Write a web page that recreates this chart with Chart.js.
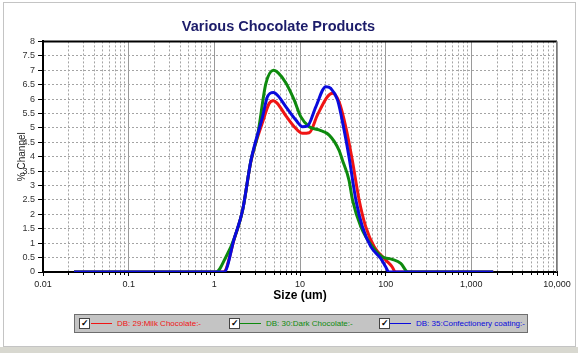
<!DOCTYPE html>
<html><head><meta charset="utf-8">
<script src="https://cdn.jsdelivr.net/npm/chart.js@4.4.1/dist/chart.umd.min.js"></script>
<style>
html,body{margin:0;padding:0;background:#fff;}
#wrap{position:relative;width:578px;height:353px;overflow:hidden;background:#fff;}
#frame{position:absolute;left:3px;top:2px;width:571px;height:343px;border:1px solid #c4c4c4;}
#bottom{position:absolute;left:0;top:347px;width:578px;height:6px;background:#d8d8d0;}
canvas{position:absolute;left:0;top:0;}
#legend{position:absolute;left:74px;top:314px;width:452px;height:17px;background:#c4c4c4;border:1px solid #6e6e6e;font-family:'Liberation Sans',Arial,sans-serif;font-size:8px;}
.cb{position:absolute;top:3px;width:9px;height:9px;background:#fff;border:1px solid #444;font-size:9px;line-height:9px;text-align:center;color:#000;font-weight:bold;}
.ln{position:absolute;top:8px;width:21px;height:1px;}
.tx{position:absolute;top:3px;white-space:nowrap;line-height:12px;}
</style></head>
<body>
<div id="wrap">
<div id="frame"></div>
<div id="bottom"></div>
<canvas id="c" width="578" height="353"></canvas>
<div id="legend">
  <div class="cb" style="left:4px">&#10003;</div><div class="ln" style="left:16px;background:#f01414"></div><div class="tx" style="left:42px;color:#f01414">DB: 29:Milk Chocolate:-</div>
  <div class="cb" style="left:154px">&#10003;</div><div class="ln" style="left:165px;background:#0e8a0e"></div><div class="tx" style="left:191px;color:#0e8a0e">DB: 30:Dark Chocolate:-</div>
  <div class="cb" style="left:304px">&#10003;</div><div class="ln" style="left:315px;background:#0a0adc"></div><div class="tx" style="left:341px;color:#0a0adc">DB: 35:Confectionery coating:-</div>
</div>
</div>
<script>
const FONT = "'Liberation Sans', Arial, sans-serif";

const milkSizes  = [0.023, 1.28, 1.71, 2.14, 2.68, 3.66, 4.37, 4.9, 5.4, 6.85, 8.96, 10.7, 12.8, 16.0, 20.9, 23.9, 28.5, 34.2, 40.8, 49, 58.5, 73.5, 100, 119, 130, 1800];
const milkValues = [0, 0, 1.15, 2.15, 3.85, 5.2, 5.85, 5.94, 5.86, 5.42, 4.98, 4.81, 4.83, 5.45, 6.08, 6.2, 5.91, 5.04, 3.88, 2.5, 1.57, 0.88, 0.42, 0.18, 0, 0];

const darkSizes  = [0.023, 1.05, 1.37, 1.71, 2.14, 2.68, 3.2, 4.0, 4.9, 5.6, 6.85, 8.55, 10.2, 12.8, 16.7, 21.9, 28.5, 31.3, 37.3, 41, 51.3, 70, 91, 119, 150, 182, 1800];
const darkValues = [0, 0, 0.53, 1.17, 2.15, 3.88, 4.75, 6.54, 7.0, 6.9, 6.56, 5.97, 5.39, 5.04, 4.93, 4.75, 4.23, 3.88, 3.19, 2.5, 1.57, 0.88, 0.53, 0.44, 0.3, 0, 0];

const coatSizes  = [0.023, 1.3, 1.71, 2.14, 2.68, 3.66, 4.17, 4.9, 5.5, 6.85, 8.96, 10.7, 12.2, 15.3, 20, 22.9, 27.4, 32.7, 37.3, 44.9, 53.5, 67, 87.6, 100, 109, 1800];
const coatValues = [0, 0, 1.17, 2.15, 3.88, 5.39, 6.08, 6.23, 6.12, 5.73, 5.27, 5.04, 5.06, 5.73, 6.43, 6.37, 5.97, 4.93, 4.0, 2.5, 1.57, 0.88, 0.47, 0.18, 0, 0];

const xTickValues = [0.01, 0.1, 1, 10, 100, 1000, 10000];
const xTickLabels = ['0.01', '0.1', '1', '10', '100', '1,000', '10,000'];
const yTickValues = [0, 0.5, 1, 1.5, 2, 2.5, 3, 3.5, 4, 4.5, 5, 5.5, 6, 6.5, 7, 7.5, 8];
const yTickLabels = ['0', '0.5', '1', '1.5', '2', '2.5', '3', '3.5', '4', '4.5', '5', '5.5', '6', '6.5', '7', '7.5', '8'];
const minorMultipliers = [2, 3, 4, 5, 6, 7, 8, 9];

const minorTickValues = [];
xTickValues.slice(0, -1).forEach(d => minorMultipliers.forEach(m => minorTickValues.push(d * m)));

const toXY = (s, v) => s.map((x, i) => ({x: x, y: v[i]}));

const framePlugin = {
  id: 'frame',
  beforeDatasetsDraw(chart) {
    const {ctx, chartArea: a} = chart;
    ctx.save();
    ctx.strokeStyle = '#000';
    ctx.lineWidth = 2;
    ctx.beginPath(); ctx.moveTo(a.left, a.top); ctx.lineTo(a.right, a.top); ctx.stroke();
    ctx.strokeStyle = '#7a7a7a';
    ctx.lineWidth = 1;
    ctx.beginPath(); ctx.moveTo(a.right - 0.5, a.top); ctx.lineTo(a.right - 0.5, a.bottom); ctx.stroke();
    ctx.restore();
  }
};

new Chart(document.getElementById('c'), {
  type: 'line',
  data: {
    datasets: [
      {label: 'DB: 29:Milk Chocolate:-', data: toXY(milkSizes, milkValues), borderColor: '#f01414', borderWidth: 3, pointRadius: 0, cubicInterpolationMode: 'monotone', fill: false, order: 3},
      {label: 'DB: 30:Dark Chocolate:-', data: toXY(darkSizes, darkValues), borderColor: '#0e8a0e', borderWidth: 3, pointRadius: 0, cubicInterpolationMode: 'monotone', fill: false, order: 2},
      {label: 'DB: 35:Confectionery coating:-', data: toXY(coatSizes, coatValues), borderColor: '#0a0adc', borderWidth: 3, pointRadius: 0, cubicInterpolationMode: 'monotone', fill: false, order: 1}
    ]
  },
  options: {
    responsive: false,
    animation: false,
    devicePixelRatio: 1,
    layout: {padding: {left: 0, right: 21, top: 0, bottom: 50}},
    plugins: {
      legend: {display: false},
      tooltip: {enabled: false},
      title: {display: true, text: 'Various Chocolate Products', color: '#1c1c6a',
        font: {family: FONT, size: 14.5, weight: 'bold', lineHeight: 1.2}, padding: {top: 18, bottom: 6}}
    },
    scales: {
      xMinor: {
        type: 'logarithmic', position: 'bottom', min: 0.01, max: 10000, weight: 0,
        afterBuildTicks: s => { s.ticks = minorTickValues.map(v => ({value: v})); },
        afterFit: s => { s.height = 0; },
        ticks: {display: false},
        grid: {color: '#a4a4a4', lineWidth: 1, tickLength: 3, tickColor: '#000', tickBorderDash: [1, 0]},
        border: {display: false, dash: [2, 2]}
      },
      x: {
        type: 'logarithmic', position: 'bottom', min: 0.01, max: 10000, weight: 10,
        afterBuildTicks: s => { s.ticks = xTickValues.map(v => ({value: v})); },
        afterFit: s => { s.height = 31; },
        ticks: {autoSkip: false, maxRotation: 0, padding: 3, font: {family: FONT, size: 9}, color: '#222',
          callback: (v, i) => xTickLabels[i]},
        grid: {color: '#9a9a9a', lineWidth: 1, tickLength: 4, tickColor: '#000'},
        border: {display: true, color: '#000', width: 2},
        title: {display: true, text: 'Size (um)', color: '#000', font: {family: FONT, size: 12, weight: 'bold', lineHeight: 1.2}, padding: 0}
      },
      y: {
        min: 0, max: 8,
        afterBuildTicks: s => { s.ticks = yTickValues.map(v => ({value: v})); },
        afterFit: s => { s.width = 43; },
        ticks: {autoSkip: false, padding: 3, font: {family: FONT, size: 9}, color: '#333',
          callback: (v, i) => yTickLabels[i]},
        grid: {color: c => (c.tick && (c.tick.value === 0 || c.tick.value === 8)) ? 'rgba(0,0,0,0)' : '#a4a4a4',
          lineWidth: 1, tickLength: 5, tickColor: '#000', tickBorderDash: [1, 0]},
        border: {display: true, color: '#000', width: 2, dash: [2, 2]},
        title: {display: true, text: '% Channel', color: '#222', font: {family: FONT, size: 10, lineHeight: 1.2}, padding: {top: 16, bottom: 0}}
      }
    }
  },
  plugins: [framePlugin]
});
</script>
</body></html>
